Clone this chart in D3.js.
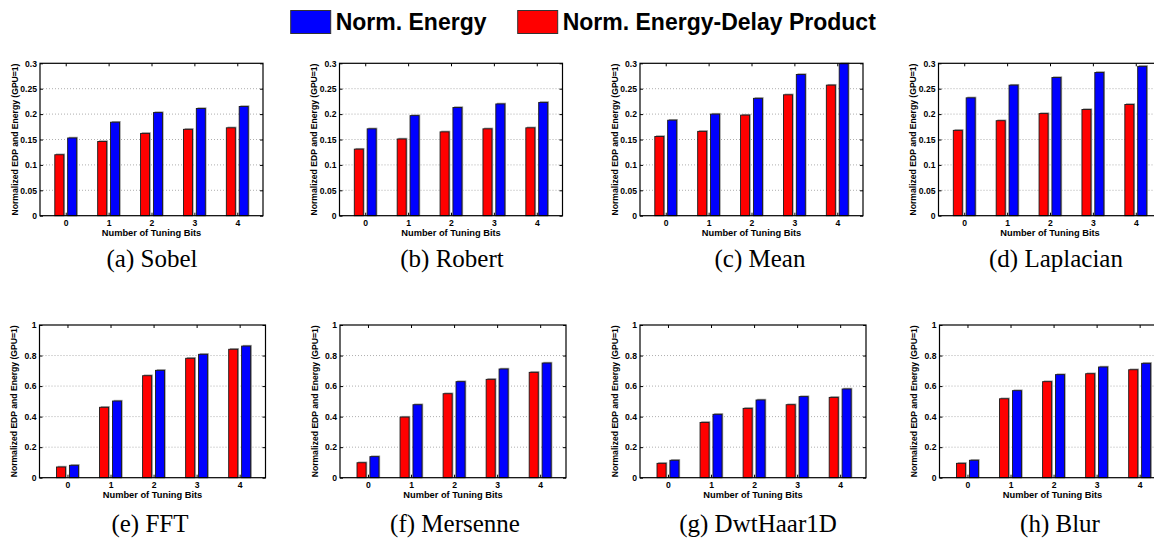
<!DOCTYPE html>
<html>
<head>
<meta charset="utf-8">
<script src="https://cdn.jsdelivr.net/npm/d3@7"></script>
<style>
  body { margin: 0; background: #fff; }
  svg { display: block; }
</style>
</head>
<body>
<svg id="chart" width="1154" height="542" font-family="Liberation Sans, Arial, Helvetica, sans-serif"></svg>
<script>
// ---------- data ----------
const categories = [0, 1, 2, 3, 4];
const seriesNames = ["Norm. Energy", "Norm. Energy-Delay Product"];
const captions = ["(a) Sobel", "(b) Robert", "(c) Mean", "(d) Laplacian",
                  "(e) FFT", "(f) Mersenne", "(g) DwtHaar1D", "(h) Blur"];
const topTicks = [0, 0.05, 0.1, 0.15, 0.2, 0.25, 0.3];
const topTickLabels = ["0", "0.05", "0.1", "0.15", "0.2", "0.25", "0.3"];
const bottomTicks = [0, 0.2, 0.4, 0.6, 0.8, 1];
const bottomTickLabels = ["0", "0.2", "0.4", "0.6", "0.8", "1"];

const edpSobel      = [0.120, 0.146, 0.162, 0.170, 0.173];
const energySobel   = [0.153, 0.184, 0.203, 0.211, 0.215];
const edpRobert     = [0.131, 0.151, 0.165, 0.171, 0.173];
const energyRobert  = [0.171, 0.197, 0.213, 0.220, 0.223];
const edpMean       = [0.156, 0.166, 0.198, 0.238, 0.257];
const energyMean    = [0.188, 0.200, 0.231, 0.278, 0.299];
const edpLaplacian  = [0.168, 0.187, 0.201, 0.209, 0.219];
const energyLaplacian = [0.232, 0.257, 0.272, 0.282, 0.294];
const edpFFT        = [0.070, 0.461, 0.668, 0.782, 0.841];
const energyFFT     = [0.081, 0.502, 0.703, 0.808, 0.862];
const edpMersenne   = [0.098, 0.397, 0.550, 0.644, 0.690];
const energyMersenne = [0.138, 0.478, 0.629, 0.712, 0.751];
const edpDwt        = [0.094, 0.362, 0.454, 0.478, 0.526];
const energyDwt     = [0.114, 0.415, 0.509, 0.531, 0.581];
const edpBlur       = [0.094, 0.517, 0.629, 0.681, 0.707];
const energyBlur    = [0.114, 0.570, 0.675, 0.725, 0.749];

const edpAll = [edpSobel, edpRobert, edpMean, edpLaplacian, edpFFT, edpMersenne, edpDwt, edpBlur];
const energyAll = [energySobel, energyRobert, energyMean, energyLaplacian, energyFFT, energyMersenne, energyDwt, energyBlur];

// ---------- layout ----------
const svg = d3.select("#chart");
const colors = { energy: "#0000ff", edp: "#ff0000" };
const SANS = "Liberation Sans, Arial, Helvetica, sans-serif";
const SERIF = "Liberation Serif, Times New Roman, Times, serif";

const topLefts = [40, 339.5, 640, 938.5];
const botLefts = [39.5, 340, 640, 939.5];
const topRow = { top: 63.3, bottom: 215.7, width: 223, xdom: [-0.6, 4.6], ymax: 0.3, ticks: topTicks, labels: topTickLabels, capY: 266.5 };
const botRow = { top: 325, bottom: 477.7, width: 226, xdom: [-0.65, 4.6], ymax: 1, ticks: bottomTicks, labels: bottomTickLabels, capY: 531.5 };
const captionX = [152, 452, 760, 1056, 150, 455, 758, 1060];

// ---------- legend ----------
const legend = svg.append("g");
const legendItems = [
  { name: seriesNames[0], color: colors.energy, x: 290.7 },
  { name: seriesNames[1], color: colors.edp, x: 517.7 }
];
legendItems.forEach(it => {
  legend.append("rect").attr("x", it.x).attr("y", 10.5).attr("width", 40).attr("height", 23)
    .attr("fill", it.color).attr("stroke", "#333").attr("stroke-width", 1);
  legend.append("text").attr("x", it.x + 45).attr("y", 29.5)
    .attr("font-family", SANS)
    .attr("font-size", 23).attr("font-weight", "bold").attr("fill", "#000").text(it.name);
});

// ---------- panels ----------
for (let i = 0; i < 8; i++) {
  const row = i < 4 ? topRow : botRow;
  const left = i < 4 ? topLefts[i] : botLefts[i - 4];
  const x = d3.scaleLinear().domain(row.xdom).range([left, left + row.width]);
  const y = d3.scaleLinear().domain([0, row.ymax]).range([row.bottom, row.top]);
  const unit = x(1) - x(0);
  const bw = 0.21 * unit, off = 0.15 * unit;
  const g = svg.append("g");

  // grid
  g.selectAll(".grid").data(row.ticks.slice(1, -1)).enter().append("line")
    .attr("x1", left).attr("x2", left + row.width)
    .attr("y1", d => y(d)).attr("y2", d => y(d))
    .attr("stroke", "#9a9a9a").attr("stroke-width", 0.8).attr("stroke-dasharray", "1,2");

  // bars
  const series = [
    { vals: edpAll[i], color: colors.edp, dx: -off },
    { vals: energyAll[i], color: colors.energy, dx: off }
  ];
  series.forEach(s => {
    const bars = g.append("g");
    bars.selectAll(".shadow").data(categories).enter().append("rect")
      .attr("x", d => x(d) + s.dx - bw / 2 + 1.2)
      .attr("y", (d, k) => y(s.vals[k]) - 1.2)
      .attr("width", bw).attr("height", (d, k) => y(0) - y(s.vals[k]) + 1.2)
      .attr("fill", "#9c9c9c");
    bars.selectAll(".bar").data(categories).enter().append("rect")
      .attr("x", d => x(d) + s.dx - bw / 2)
      .attr("y", (d, k) => y(s.vals[k]))
      .attr("width", bw).attr("height", (d, k) => y(0) - y(s.vals[k]))
      .attr("fill", s.color).attr("stroke", "#1a1a1a").attr("stroke-width", 0.9);
  });

  // box
  g.append("rect").attr("x", left).attr("y", row.top).attr("width", row.width)
    .attr("height", row.bottom - row.top).attr("fill", "none")
    .attr("stroke", "#000").attr("stroke-width", 1.2);

  // y axis ticks (inward) both sides
  const yAxisL = d3.axisLeft(y).tickValues(row.ticks).tickSize(-3)
    .tickFormat((d, k) => row.labels[k]).tickPadding(3);
  const ga = g.append("g").attr("transform", `translate(${left},0)`).call(yAxisL);
  ga.select(".domain").remove();
  ga.selectAll("line").attr("stroke", "#000").attr("stroke-width", 1);
  ga.selectAll("text").attr("font-size", 8.6).attr("font-weight", "bold")
    .attr("fill", "#000").attr("font-family", SANS);

  const yAxisR = d3.axisRight(y).tickValues(row.ticks).tickSize(-3).tickFormat("");
  const gr = g.append("g").attr("transform", `translate(${left + row.width},0)`).call(yAxisR);
  gr.select(".domain").remove();
  gr.selectAll("line").attr("stroke", "#000").attr("stroke-width", 1);

  // x axis
  const xAxisB = d3.axisBottom(x).tickValues(categories).tickSize(-3)
    .tickFormat(d => String(d)).tickPadding(4);
  const gb = g.append("g").attr("transform", `translate(0,${row.bottom})`).call(xAxisB);
  gb.select(".domain").remove();
  gb.selectAll("line").attr("stroke", "#000").attr("stroke-width", 1);
  gb.selectAll("text").attr("font-size", 8.6).attr("font-weight", "bold")
    .attr("fill", "#000").attr("font-family", SANS);

  const xAxisT = d3.axisTop(x).tickValues(categories).tickSize(-3).tickFormat("");
  const gt = g.append("g").attr("transform", `translate(0,${row.top})`).call(xAxisT);
  gt.select(".domain").remove();
  gt.selectAll("line").attr("stroke", "#000").attr("stroke-width", 1);

  // axis labels
  g.append("text").attr("x", left + row.width / 2).attr("y", row.bottom + 20.5)
    .attr("text-anchor", "middle").attr("font-size", 9.3).attr("font-weight", "bold")
    .attr("font-family", SANS)
    .text("Number of Tuning Bits");
  g.append("text")
    .attr("transform", `translate(${left - 22.5},${(row.top + row.bottom) / 2}) rotate(-90)`)
    .attr("text-anchor", "middle").attr("font-size", 8.6).attr("font-weight", "bold")
    .attr("font-family", SANS)
    .text("Normalized EDP and Energy (GPU=1)");

  // caption
  svg.append("text").attr("x", captionX[i]).attr("y", row.capY)
    .attr("text-anchor", "middle").attr("font-size", 25)
    .attr("font-family", SERIF)
    .text(captions[i]);
}
</script>
</body>
</html>
